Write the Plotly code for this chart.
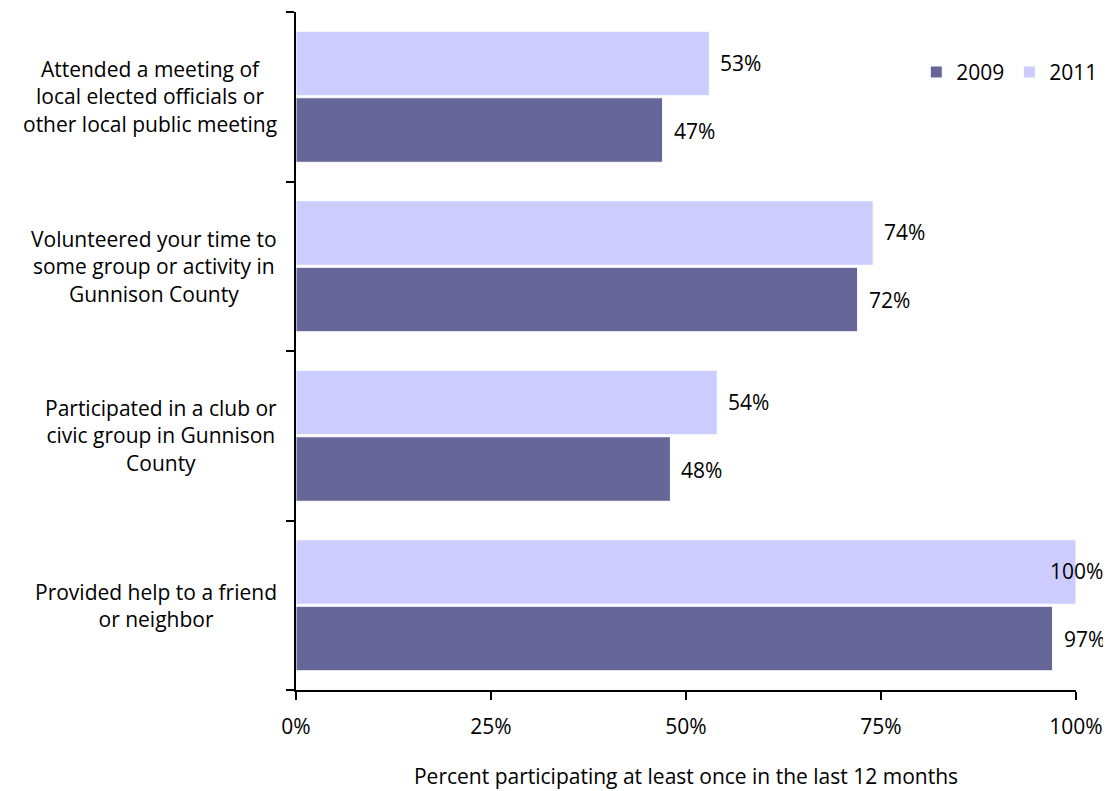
import plotly.graph_objects as go

categories = [
    "Attended a meeting of<br>local elected officials or<br>other local public meeting",
    "Volunteered your time to<br>some group or activity in<br>Gunnison County",
    "Participated in a club or<br>civic group in Gunnison<br>County",
    "Provided help to a friend<br>or neighbor",
]
vals_2009 = [0.47, 0.72, 0.48, 0.97]
vals_2011 = [0.53, 0.74, 0.54, 1.00]

font_family = "'Open Sans', Lato, sans-serif"
fsize = 21

fig = go.Figure()
fig.add_trace(go.Bar(
    y=categories, x=vals_2009, name="2009", orientation="h",
    marker=dict(color="#666699", line=dict(color="#ffffff", width=1)),
))
fig.add_trace(go.Bar(
    y=categories, x=vals_2011, name="2011", orientation="h",
    marker=dict(color="#CCCCFF", line=dict(color="#ffffff", width=1)),
))

annotations = []
# centred category labels
for c in categories:
    annotations.append(dict(
        x=-0.022, y=c, xref="paper", yref="y", text=c, showarrow=False,
        xanchor="right", yanchor="middle", align="center",
        font=dict(size=fsize, color="#000000", family=font_family),
    ))

# value labels (outside end; a full bar gets its label centred on the end)
for offset, vals in ((-0.2, vals_2009), (0.2, vals_2011)):
    for i, v in enumerate(vals):
        full = v >= 1
        annotations.append(dict(
            x=v, y=len(categories) - 1 - i + offset, xref="x", yref="y",
            text=f"{v:.0%}", showarrow=False,
            xanchor="center" if full else "left", xshift=0 if full else 9,
            yanchor="middle",
            font=dict(size=fsize, color="#000000", family=font_family),
        ))

# page body has an 8px default margin, so the figure is 8px smaller
fig.update_layout(
    width=1103, height=783,
    margin=dict(l=288, r=35, t=4, b=101, autoexpand=False),
    barmode="group", bargap=0.215, bargroupgap=0.03,
    paper_bgcolor="white", plot_bgcolor="white",
    font=dict(family=font_family, size=fsize, color="#000000"),
    showlegend=True,
    legend=dict(orientation="h", x=1.035, xanchor="right", y=0.911, yanchor="middle",
                traceorder="normal", font=dict(size=fsize), itemwidth=30,
                bgcolor="rgba(0,0,0,0)"),
    annotations=annotations,
)
fig.update_xaxes(
    range=[0, 1], tickvals=[0, 0.25, 0.5, 0.75, 1.0], tickformat=".0%",
    showline=True, linecolor="#000000", linewidth=2,
    ticks="outside", ticklen=8, tickwidth=2, tickcolor="#000000",
    ticklabelstandoff=9,
    showgrid=False, zeroline=False, tickfont=dict(size=fsize),
    title=dict(text="Percent participating at least once in the last 12 months",
               font=dict(size=fsize), standoff=30),
)
fig.update_yaxes(
    categoryorder="array", categoryarray=categories[::-1],
    range=[-0.5, 3.5], showticklabels=False,
    showline=True, linecolor="#000000", linewidth=2,
    ticks="outside", ticklen=8, tickwidth=2, tickcolor="#000000",
    tickson="boundaries", showgrid=False,
)

fig.write_html("out.html")
